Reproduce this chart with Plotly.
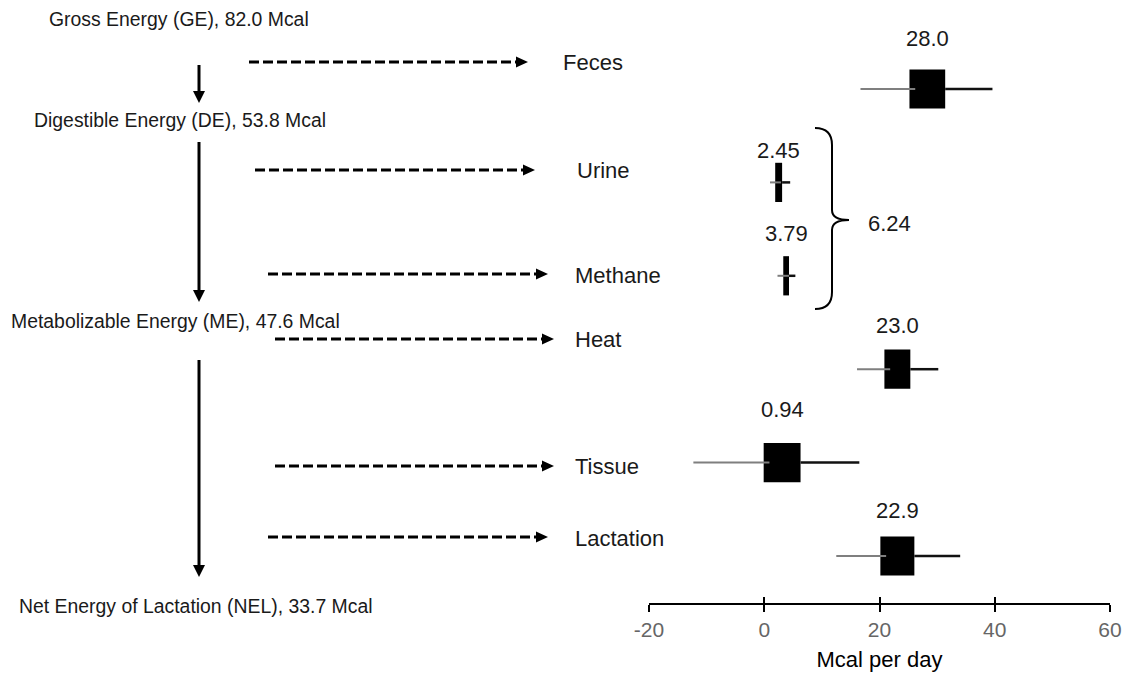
import plotly.graph_objects as go

W, H = 1128, 673

# ---- data ----
categories = ["Feces", "Urine", "Methane", "Heat", "Tissue", "Lactation"]
estimate_labels = ["28.0", "2.45", "3.79", "23.0", "0.94", "22.9"]
box_center = [28.3, 2.5, 3.8, 23.1, 3.1, 23.1]
ci_low = [16.7, 1.0, 2.3, 16.1, -12.3, 12.5]
ci_high = [39.6, 4.5, 5.4, 30.2, 16.5, 34.0]
box_weight = [6.2, 1.2, 1.0, 4.5, 6.4, 5.9]   # box widths (Mcal units)
energy_levels = ["Gross Energy (GE), 82.0 Mcal",
                 "Digestible Energy (DE), 53.8 Mcal",
                 "Metabolizable Energy (ME), 47.6 Mcal",
                 "Net Energy of Lactation (NEL), 33.7 Mcal"]
urine_methane_sum = "6.24"
tick_vals = [-20, 0, 20, 40, 60]
tick_text = ["-20", "0", "20", "40", "60"]

# ---- layout helpers (pixel -> paper) ----
def px(x):
    return x / W

def py(y):
    return 1 - y / H

FONT = "Liberation Sans, Arial, sans-serif"
rows = list(range(len(categories)))

fig = go.Figure()

# whiskers
gx, gy, bx, by = [], [], [], []
for i in rows:
    left = box_center[i] - box_weight[i] / 2
    right = box_center[i] + box_weight[i] / 2
    gx += [ci_low[i], left + 1.0, None]
    gy += [i, i, None]
    bx += [right, ci_high[i], None]
    by += [i, i, None]
fig.add_trace(go.Scatter(x=gx, y=gy, mode="lines", line=dict(color="#7f7f7f", width=2),
                         hoverinfo="skip", showlegend=False))
fig.add_trace(go.Scatter(x=bx, y=by, mode="lines", line=dict(color="#111111", width=2.5),
                         hoverinfo="skip", showlegend=False))

# boxes
fig.add_trace(go.Bar(orientation="h", y=rows, x=box_weight,
                     base=[c - w / 2 for c, w in zip(box_center, box_weight)],
                     width=0.42, marker=dict(color="black", line=dict(width=0)),
                     showlegend=False, hoverinfo="skip"))

# overlay axis trace (for crossing ticks)
fig.add_trace(go.Scatter(x=[None], y=[None], xaxis="x2", yaxis="y", showlegend=False))

label_shift = [51, 32, 42, 44, 53, 46]
annotations = []
for i in rows:
    annotations.append(dict(x=box_center[i], y=i, xref="x", yref="y", text=estimate_labels[i],
                            showarrow=False, yshift=label_shift[i],
                            font=dict(family=FONT, size=22, color="#1a1a1a")))

# category labels (right of dashed arrows)
cat_pos = [(561, 62), (575, 170), (573, 275), (573, 339), (573, 466), (573, 538)]
for name, (x, y) in zip(categories, cat_pos):
    annotations.append(dict(x=px(x), y=py(y), xref="paper", yref="paper", text=name,
                            showarrow=False, xanchor="left", yanchor="middle",
                            font=dict(family=FONT, size=22, color="#1a1a1a")))

# energy level labels
lvl_pos = [(47, 19), (32, 120), (9, 321), (17, 606)]
for name, (x, y) in zip(energy_levels, lvl_pos):
    annotations.append(dict(x=px(x), y=py(y), xref="paper", yref="paper", text=name,
                            showarrow=False, xanchor="left", yanchor="middle",
                            font=dict(family=FONT, size=19.4, color="#1a1a1a")))

annotations.append(dict(x=px(866), y=py(224), xref="paper", yref="paper", text=urine_methane_sum,
                        showarrow=False, xanchor="left", yanchor="middle",
                        font=dict(family=FONT, size=22, color="#1a1a1a")))

shapes = []
# dashed arrows
dashed = [(249, 528, 62), (255, 535, 170), (268, 548, 274),
          (275, 554, 339), (275, 554, 466), (268, 548, 537)]
for x0, x1, y in dashed:
    shapes.append(dict(type="line", xref="paper", yref="paper",
                       x0=px(x0), x1=px(x1 - 11), y0=py(y), y1=py(y),
                       line=dict(color="black", width=3, dash="10px,4px")))
    path = f"M {px(x1-12)},{py(y-5.5)} L {px(x1)},{py(y)} L {px(x1-12)},{py(y+5.5)} Z"
    shapes.append(dict(type="path", xref="paper", yref="paper", path=path,
                       fillcolor="black", line=dict(width=0)))

# solid vertical arrows
solid = [(199, 65, 103), (199, 142, 302), (199, 360, 577)]
for x, y0, y1 in solid:
    shapes.append(dict(type="line", xref="paper", yref="paper",
                       x0=px(x), x1=px(x), y0=py(y0), y1=py(y1 - 10),
                       line=dict(color="black", width=3)))
    path = f"M {px(x-6)},{py(y1-12)} L {px(x)},{py(y1)} L {px(x+6)},{py(y1-12)} Z"
    shapes.append(dict(type="path", xref="paper", yref="paper", path=path,
                       fillcolor="black", line=dict(width=0)))

# curly brace
bp = [(815, 128), (832, 128), (832, 145), (832, 210), (832, 220), (849, 220),
      (832, 220), (832, 230), (832, 292), (832, 309), (815, 309)]
p = [(px(a), py(b)) for a, b in bp]
brace = (f"M {p[0][0]},{p[0][1]} Q {p[1][0]},{p[1][1]} {p[2][0]},{p[2][1]} "
         f"L {p[3][0]},{p[3][1]} Q {p[4][0]},{p[4][1]} {p[5][0]},{p[5][1]} "
         f"Q {p[6][0]},{p[6][1]} {p[7][0]},{p[7][1]} L {p[8][0]},{p[8][1]} "
         f"Q {p[9][0]},{p[9][1]} {p[10][0]},{p[10][1]}")
shapes.append(dict(type="path", xref="paper", yref="paper", path=brace,
                   line=dict(color="black", width=2)))

row_px = 93.4
y_top = 0 - 89 / row_px
y_bot = 5 + (H - 556) / row_px
axis_pos = 1 - 604 / H
xdom = [px(649), px(1110)]

fig.update_layout(
    template="none",
    width=W, height=H,
    margin=dict(l=0, r=0, t=0, b=0, pad=0, autoexpand=False),
    paper_bgcolor="white", plot_bgcolor="rgba(0,0,0,0)",
    barmode="overlay",
    xaxis=dict(domain=xdom, range=[-20, 60], anchor="free", position=axis_pos,
               automargin=False,
               showgrid=False, zeroline=False, showline=True, linecolor="black", linewidth=2,
               ticks="outside", ticklen=7, tickwidth=2, tickcolor="black",
               tickvals=tick_vals, ticktext=tick_text,
               tickfont=dict(family=FONT, size=21, color="#666666"),
               title=dict(text="Mcal per day", standoff=10,
                          font=dict(family=FONT, size=22, color="black"))),
    xaxis2=dict(domain=xdom, range=[-20, 60], matches="x", overlaying="x", anchor="free",
                position=axis_pos, automargin=False, showgrid=False, zeroline=False,
                showline=False, ticks="inside", ticklen=7, tickwidth=2, tickcolor="black",
                tickvals=tick_vals, showticklabels=False),
    yaxis=dict(domain=[0, 1], range=[y_bot, y_top], visible=False, showgrid=False,
               zeroline=False, automargin=False),
    annotations=annotations,
    shapes=shapes,
)

fig.write_html("out.html", config={"displayModeBar": False},
               post_script="document.body.style.margin='0px';")
